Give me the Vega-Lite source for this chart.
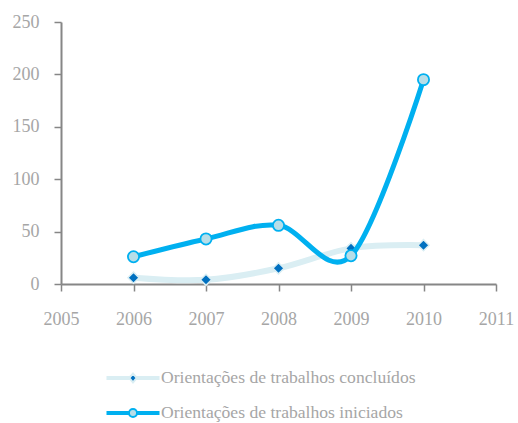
{
  "$schema": "https://vega.github.io/schema/vega-lite/v6.json",
  "width": 435,
  "height": 262,
  "autosize": {"type": "none"},
  "padding": {"left": 61, "top": 22, "right": 22, "bottom": 139},
  "background": "white",
  "config": {
    "view": {"stroke": null},
    "font": "Liberation Serif",
    "axis": {
      "domainColor": "#868686",
      "domainWidth": 2,
      "tickColor": "#868686",
      "tickWidth": 1.5,
      "tickSize": 7,
      "labelColor": "#A6A6A6",
      "labelFont": "Liberation Serif",
      "labelFontSize": 18,
      "grid": false,
      "title": null
    }
  },
  "data": {
    "values": [
      {"ano": 2006, "serie": "Orientações de trabalhos concluídos", "valor": 6},
      {"ano": 2007, "serie": "Orientações de trabalhos concluídos", "valor": 4},
      {"ano": 2008, "serie": "Orientações de trabalhos concluídos", "valor": 15},
      {"ano": 2009, "serie": "Orientações de trabalhos concluídos", "valor": 34},
      {"ano": 2010, "serie": "Orientações de trabalhos concluídos", "valor": 37},
      {"ano": 2006, "serie": "Orientações de trabalhos iniciados", "valor": 26},
      {"ano": 2007, "serie": "Orientações de trabalhos iniciados", "valor": 43},
      {"ano": 2008, "serie": "Orientações de trabalhos iniciados", "valor": 56},
      {"ano": 2009, "serie": "Orientações de trabalhos iniciados", "valor": 27},
      {"ano": 2010, "serie": "Orientações de trabalhos iniciados", "valor": 195}
    ]
  },
  "encoding": {
    "x": {
      "field": "ano",
      "type": "quantitative",
      "scale": {"domain": [2005, 2011], "nice": false, "zero": false},
      "axis": {"values": [2005, 2006, 2007, 2008, 2009, 2010, 2011], "format": "d", "labelPadding": 19, "labelFlush": false}
    },
    "y": {
      "field": "valor",
      "type": "quantitative",
      "scale": {"domain": [0, 250], "nice": false},
      "axis": {"values": [0, 50, 100, 150, 200, 250], "labelPadding": 15}
    }
  },
  "layer": [
    {
      "transform": [{"filter": "datum.serie === 'Orientações de trabalhos concluídos'"}],
      "mark": {"type": "line", "interpolate": "cardinal", "strokeWidth": 6, "strokeCap": "round"},
      "encoding": {
        "stroke": {
          "field": "serie",
          "type": "nominal",
          "scale": {
            "domain": ["Orientações de trabalhos concluídos", "Orientações de trabalhos iniciados"],
            "range": ["#DAEEF3", "#00B0F0"]
          },
          "legend": {
            "orient": "none",
            "legendX": 56,
            "legendY": 340,
            "title": null,
            "direction": "vertical",
            "symbolSize": 900,
            "symbolStrokeWidth": 2,
            "labelOffset": 12,
            "labelFont": "Liberation Serif",
            "labelFontSize": 17.6,
            "labelColor": "#A6A6A6",
            "labelLimit": 400,
            "rowPadding": 10,
            "encode": {
              "symbols": {
                "update": {
                  "shape": {"signal": "datum.value === 'Orientações de trabalhos iniciados' ? 'M-1.7,-0.067L-0.27,-0.067L-0.27,0.067L-1.7,0.067Z M0.27,-0.067L1.7,-0.067L1.7,0.067L0.27,0.067Z M0.27,0A0.27,0.27,0,1,1,-0.27,0A0.27,0.27,0,1,1,0.27,0Z' : 'M-1.7,-0.067L-0.25,-0.067L-0.25,0.067L-1.7,0.067Z M0.25,-0.067L1.7,-0.067L1.7,0.067L0.25,0.067Z M-0.25,0L0,-0.3L0.25,0L0,0.3Z'"},
                  "fill": {"signal": "datum.value === 'Orientações de trabalhos iniciados' ? '#B7DEE8' : '#0070C0'"},
                  "fillOpacity": {"value": 1},
                  "strokeWidth": {"value": 2},
                  "opacity": {"value": 1}
                }
              }
            }
          }
        }
      }
    },
    {
      "transform": [{"filter": "datum.serie === 'Orientações de trabalhos concluídos'"}],
      "mark": {"type": "point", "shape": "diamond", "filled": true, "size": 125, "fill": "#0070C0", "strokeWidth": 1.5, "opacity": 1},
      "encoding": {
        "stroke": {"field": "serie", "type": "nominal", "legend": null}
      }
    },
    {
      "transform": [{"filter": "datum.serie === 'Orientações de trabalhos iniciados'"}],
      "mark": {"type": "line", "interpolate": "cardinal", "strokeWidth": 5, "strokeCap": "round"},
      "encoding": {
        "stroke": {"field": "serie", "type": "nominal", "legend": null}
      }
    },
    {
      "transform": [{"filter": "datum.serie === 'Orientações de trabalhos iniciados'"}],
      "mark": {"type": "point", "shape": "circle", "filled": true, "size": 125, "fill": "#B7DEE8", "strokeWidth": 1.8, "opacity": 1},
      "encoding": {
        "stroke": {"field": "serie", "type": "nominal", "legend": null}
      }
    }
  ]
}
